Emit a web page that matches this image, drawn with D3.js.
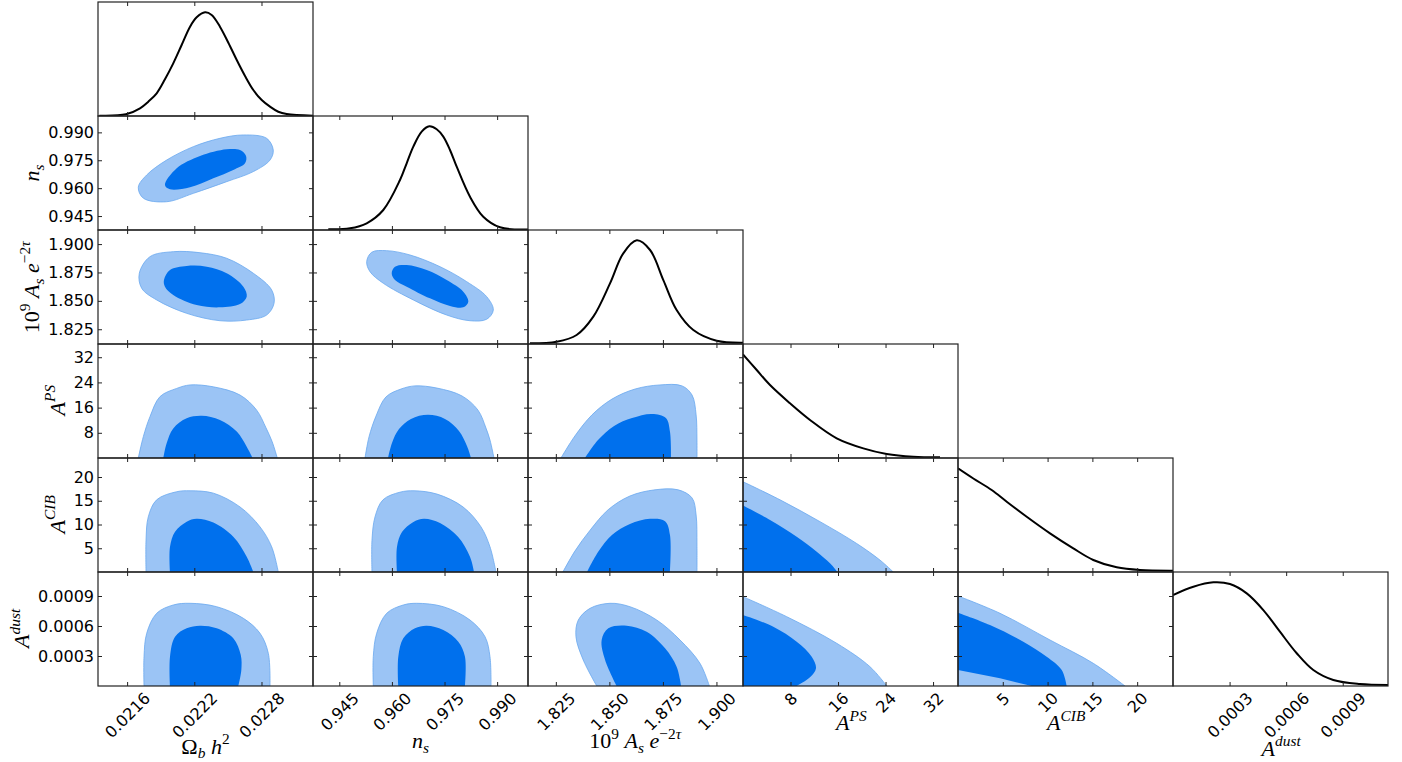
<!doctype html>
<html>
<head>
<meta charset="utf-8">
<style>
	body { margin: 0; background: #fff; }
	.spine { fill: none; stroke: #222; stroke-width: 1.2px; }
	.ticks { color: #222; }
	.ticks text { font-family: "DejaVu Sans", sans-serif; font-size: 16px; fill: #000; }
	.axlab { font-family: "Liberation Serif", serif; fill: #000; }
	.c95 { fill: #9bc4f5; stroke: #6aa8ef; stroke-width: 0.8px; }
	.c68 { fill: #0070ed; }
	.marg { fill: none; stroke: #000; stroke-width: 2px; }
</style>
<script src="https://d3js.org/d3.v7.min.js"></script>
</head>
<body>
<script>
	// parameters, in the order of the triangle
	var names = ["omb", "ns", "As", "APS", "ACIB", "Adust"];
	var axisLabels = ["Ω_b h^2", "n_s", "10^9 A_s e^{−2τ}", "A^{PS}", "A^{CIB}", "A^{dust}"];
	var ranges = [[0.02134, 0.02326], [0.9375, 0.9988], [1.812, 1.9124], [0, 36.2], [0, 24], [0, 0.00114]];
	var tickValues = [
		[0.0216, 0.0222, 0.0228],
		[0.945, 0.960, 0.975, 0.990],
		[1.825, 1.850, 1.875, 1.900],
		[8, 16, 24, 32],
		[5, 10, 15, 20],
		[0.0003, 0.0006, 0.0009]
	];
	var tickLabels = [
		["0.0216", "0.0222", "0.0228"],
		["0.945", "0.960", "0.975", "0.990"],
		["1.825", "1.850", "1.875", "1.900"],
		["8", "16", "24", "32"],
		["5", "10", "15", "20"],
		["0.0003", "0.0006", "0.0009"]
	];

	// 1D marginals: [value, relative density]
	var marg_omb = [[0.021352,0.003],[0.021590,0.016],[0.021715,0.074],[0.021789,0.138],[0.021864,0.219],[0.021938,0.354],[0.022012,0.508],[0.022087,0.685],[0.022162,0.862],[0.022221,0.952],[0.022296,1.0],[0.022355,0.975],[0.022429,0.862],[0.022504,0.707],[0.022579,0.540],[0.022653,0.386],[0.022727,0.251],[0.022802,0.154],[0.022876,0.090],[0.022950,0.041],[0.023025,0.019],[0.023263,0.003]];
	var marg_ns = [[0.94186,0.007],[0.94805,0.016],[0.95281,0.065],[0.95754,0.193],[0.96230,0.482],[0.96421,0.644],[0.96610,0.804],[0.96849,0.949],[0.97066,1.0],[0.97277,0.972],[0.97465,0.901],[0.97656,0.772],[0.97847,0.611],[0.98226,0.321],[0.98605,0.128],[0.99081,0.026],[0.9988,0.005]];
	var marg_As = [[1.8129,0.007],[1.8254,0.022],[1.8347,0.087],[1.8425,0.264],[1.8503,0.585],[1.8565,0.875],[1.8628,1.0],[1.8690,0.907],[1.8752,0.617],[1.8814,0.328],[1.8892,0.135],[1.9001,0.032],[1.9124,0.013]];
	var marg_APS = [[0,1.0],[2.31,0.849],[4.55,0.704],[7.91,0.528],[11.28,0.367],[15.78,0.190],[20.26,0.093],[24.19,0.039],[28.67,0.013],[33.17,0.008]];
	var marg_CIB = [[0,1.0],[1.71,0.902],[3.76,0.791],[5.44,0.678],[7.67,0.533],[10.27,0.373],[12.87,0.228],[15.10,0.116],[17.72,0.045],[20.32,0.019],[24,0.013]];
	var marg_dust = [[0,0.878],[0.000108,0.958],[0.000214,1.0],[0.000302,0.984],[0.000391,0.894],[0.000479,0.733],[0.000567,0.524],[0.000656,0.316],[0.000744,0.154],[0.00085,0.058],[0.000991,0.019],[0.00114,0.010]];

	// 2D contours (95% and 68%): [column parameter, row parameter]
	var ns_omb_95 = [[0.02170,0.9605],[0.021775,0.9671],[0.021953,0.9751],[0.022191,0.9823],[0.022429,0.9868],[0.022638,0.9886],[0.022846,0.9868],[0.022905,0.9805],[0.022876,0.9751],[0.022727,0.9689],[0.022489,0.9635],[0.022191,0.9572],[0.021953,0.9527],[0.021745,0.9546]];
	var ns_omb_68 = [[0.021938,0.9617],[0.022043,0.9707],[0.022251,0.9773],[0.022489,0.9809],[0.022608,0.9805],[0.022662,0.9773],[0.022653,0.9734],[0.022548,0.9698],[0.022370,0.9653],[0.022162,0.9605],[0.021983,0.9594]];
	var As_omb_95 = [[0.021709,1.8743],[0.021804,1.8889],[0.022012,1.8933],[0.022251,1.8924],[0.022489,1.8875],[0.022727,1.8743],[0.022891,1.8596],[0.022912,1.8478],[0.022846,1.8375],[0.022668,1.8331],[0.022429,1.8325],[0.022132,1.8390],[0.021864,1.8508],[0.021730,1.8611]];
	var As_omb_68 = [[0.021929,1.8684],[0.021983,1.8772],[0.022132,1.8807],[0.022311,1.8801],[0.022489,1.8743],[0.022638,1.8625],[0.022668,1.8537],[0.022608,1.8472],[0.022429,1.8443],[0.022221,1.8463],[0.022012,1.8552],[0.021938,1.8625]];
	var As_ns_95 = [[0.95281,1.8845],[0.95424,1.8928],[0.95851,1.8942],[0.96515,1.8904],[0.97371,1.8801],[0.98132,1.8669],[0.98702,1.8537],[0.98891,1.8419],[0.98702,1.8338],[0.98226,1.8325],[0.97562,1.8375],[0.96610,1.8508],[0.95754,1.8655],[0.95375,1.8757]];
	var As_ns_68 = [[0.95994,1.8743],[0.96088,1.8801],[0.96421,1.8816],[0.96992,1.8772],[0.97562,1.8684],[0.98035,1.8581],[0.98178,1.8493],[0.98035,1.8443],[0.97656,1.8455],[0.97086,1.8522],[0.96421,1.8625],[0.96088,1.8684]];
	var APS_omb_95 = [[0.021700,0],[0.021745,6.8],[0.021804,13.1],[0.021894,19.5],[0.022043,22.1],[0.022162,23.2],[0.022370,22.6],[0.022608,20.0],[0.022757,15.2],[0.022840,9.6],[0.022895,5.2],[0.022941,0]];
	var APS_omb_68 = [[0.021923,0],[0.021953,4.7],[0.022012,9.4],[0.022132,12.6],[0.022266,13.4],[0.022429,12.1],[0.022579,8.4],[0.022668,3.6],[0.022721,0]];
	var CIB_omb_95 = [[0.021769,0],[0.021769,6.7],[0.021789,11.6],[0.021864,15.2],[0.022043,16.9],[0.022162,17.1],[0.022370,16.6],[0.022608,13.7],[0.022787,9.5],[0.022891,5.3],[0.022950,0]];
	var CIB_omb_68 = [[0.021983,0],[0.021983,5.3],[0.022028,8.5],[0.022132,10.6],[0.022221,11.2],[0.022370,10.4],[0.022548,7.4],[0.022668,3.2],[0.022727,0]];
	var dust_omb_95 = [[0.021751,0],[0.021751,0.000293],[0.021775,0.000527],[0.021864,0.000727],[0.022012,0.00081],[0.022162,0.000827],[0.022400,0.000793],[0.022638,0.000677],[0.022787,0.000527],[0.022861,0.000327],[0.022876,0]];
	var dust_omb_68 = [[0.021983,0],[0.021983,0.000293],[0.022028,0.000493],[0.022132,0.000577],[0.022251,0.000603],[0.022400,0.000577],[0.022548,0.000477],[0.022615,0.000310],[0.022620,0.000160],[0.022593,0]];
	var APS_ns_95 = [[0.95233,0],[0.95347,6.7],[0.95546,13.3],[0.95831,19.4],[0.96259,21.9],[0.96658,22.9],[0.97285,22.2],[0.97998,19.7],[0.98454,15.2],[0.98682,9.5],[0.98796,5.7],[0.98910,0]];
	var APS_ns_68 = [[0.95888,0],[0.96002,4.8],[0.96202,9.2],[0.96544,12.4],[0.97029,13.7],[0.97513,12.4],[0.97912,8.6],[0.98140,3.8],[0.98255,0]];
	var CIB_ns_95 = [[0.95432,0],[0.95432,6.7],[0.95518,11.6],[0.95746,15.2],[0.96230,16.8],[0.96630,17.1],[0.97285,16.4],[0.98027,13.7],[0.98540,9.5],[0.98796,5.3],[0.98967,0]];
	var CIB_ns_68 = [[0.96145,0],[0.96145,5.3],[0.96287,8.4],[0.96601,10.5],[0.96915,11.2],[0.97371,10.3],[0.97884,7.4],[0.98226,3.2],[0.98340,0]];
	var dust_ns_95 = [[0.95469,0],[0.95469,0.000293],[0.95566,0.000527],[0.95851,0.000727],[0.96324,0.00081],[0.96707,0.000827],[0.97465,0.000793],[0.98226,0.00066],[0.98654,0.000493],[0.98796,0.000293],[0.98825,0]];
	var dust_ns_68 = [[0.96182,0],[0.96182,0.000293],[0.96324,0.000477],[0.96658,0.000577],[0.96992,0.000603],[0.97465,0.00056],[0.97893,0.000443],[0.98083,0.000293],[0.98083,0]];
	var APS_As_95 = [[1.8274,0],[1.8339,7.0],[1.8419,13.7],[1.8512,18.7],[1.8620,21.9],[1.8736,23.2],[1.8839,22.9],[1.8886,20.0],[1.8905,13.7],[1.8909,5.7],[1.8909,0]];
	var APS_As_68 = [[1.8386,0],[1.8447,5.7],[1.8522,10.2],[1.8606,12.7],[1.8699,14.0],[1.8764,12.7],[1.8783,8.3],[1.8788,0]];
	var CIB_As_95 = [[1.8283,0],[1.8339,4.4],[1.8410,8.8],[1.8494,13.1],[1.8596,16.0],[1.8713,17.3],[1.8821,17.3],[1.8886,15.6],[1.8905,12.0],[1.8909,5.7],[1.8909,0]];
	var CIB_As_68 = [[1.8396,0],[1.8447,4.2],[1.8512,7.8],[1.8596,10.1],[1.8690,11.2],[1.8760,10.7],[1.8783,7.8],[1.8783,0]];
	var dust_As_95 = [[1.8441,0],[1.8378,0.00026],[1.8344,0.000493],[1.8355,0.00066],[1.8410,0.000777],[1.8503,0.000827],[1.8596,0.000793],[1.8721,0.00066],[1.8830,0.00046],[1.8923,0.000227],[1.8967,0]];
	var dust_As_68 = [[1.8534,0],[1.8480,0.00026],[1.8464,0.00046],[1.8495,0.000577],[1.8581,0.000603],[1.8674,0.000543],[1.8760,0.000377],[1.8814,0.000193],[1.8835,0]];
	var CIB_APS_95 = [[0,19.0],[6.23,15.2],[12.96,10.6],[19.14,6.0],[23.07,2.5],[25.3,0]];
	var CIB_APS_68 = [[0,14.0],[4.55,10.95],[9.04,7.43],[12.41,4.27],[14.65,1.83],[15.9,0]];
	var dust_APS_95 = [[0,0.000893],[7.36,0.000693],[15.78,0.000427],[21.38,0.000193],[24.2,0]];
	var dust_APS_68 = [[0,0.00071],[5.10,0.000593],[9.04,0.000443],[11.57,0.000293],[12.29,0.000177],[11.28,0.000087],[9.04,0]];
	var dust_CIB_95 = [[0,0.0009],[4.69,0.000727],[10.27,0.00046],[15.1,0.000227],[18.64,0]];
	var dust_CIB_68 = [[0,0.000733],[3.57,0.00061],[7.29,0.000443],[9.9,0.000293],[11.58,0.00016],[12.13,0]];
	var dust_CIB_68_edge = [[8.23,0],[4.69,0.000077],[0,0.00016]];

	var margs = [marg_omb, marg_ns, marg_As, marg_APS, marg_CIB, marg_dust];
	// closing edge: null = closed contour, [] = cut by the bottom, points = straight closing segments
	var panels = [
		{row: 1, col: 0, c95: ns_omb_95, c68: ns_omb_68, e95: null, e68: null},
		{row: 2, col: 0, c95: As_omb_95, c68: As_omb_68, e95: null, e68: null},
		{row: 2, col: 1, c95: As_ns_95, c68: As_ns_68, e95: null, e68: null},
		{row: 3, col: 0, c95: APS_omb_95, c68: APS_omb_68, e95: [], e68: []},
		{row: 3, col: 1, c95: APS_ns_95, c68: APS_ns_68, e95: [], e68: []},
		{row: 3, col: 2, c95: APS_As_95, c68: APS_As_68, e95: [], e68: []},
		{row: 4, col: 0, c95: CIB_omb_95, c68: CIB_omb_68, e95: [], e68: []},
		{row: 4, col: 1, c95: CIB_ns_95, c68: CIB_ns_68, e95: [], e68: []},
		{row: 4, col: 2, c95: CIB_As_95, c68: CIB_As_68, e95: [], e68: []},
		{row: 4, col: 3, c95: CIB_APS_95, c68: CIB_APS_68, e95: [[0, 0]], e68: [[0, 0]]},
		{row: 5, col: 0, c95: dust_omb_95, c68: dust_omb_68, e95: [], e68: []},
		{row: 5, col: 1, c95: dust_ns_95, c68: dust_ns_68, e95: [], e68: []},
		{row: 5, col: 2, c95: dust_As_95, c68: dust_As_68, e95: [], e68: []},
		{row: 5, col: 3, c95: dust_APS_95, c68: dust_APS_68, e95: [[0, 0]], e68: [[0, 0]]},
		{row: 5, col: 4, c95: dust_CIB_95, c68: dust_CIB_68, e95: [[0, 0]], e68: dust_CIB_68_edge}
	];
</script>
<script>
	var pw = 215, ph = 114,
		left = 98, top0 = 2,
		tickLen = 4,
		labelSize = 22,
		pageH = 762;

	var svg = d3.select("body").append("svg")
		.attr("width", 1402)
		.attr("height", pageH);

	var sx = ranges.map((r, i) => d3.scaleLinear().domain(r).range([left + i * pw, left + (i + 1) * pw]));
	var sy = ranges.map((r, i) => d3.scaleLinear().domain(r).range([top0 + (i + 1) * ph, top0 + i * ph]));
	var sd = ranges.map((r, i) => d3.scaleLinear().domain([0, 1.1]).range([top0 + (i + 1) * ph, top0 + i * ph]));

	var defs = svg.append("defs");
	var clip = function(row, col) {
		var id = "clip-" + row + "-" + col;
		defs.append("clipPath").attr("id", id)
			.append("rect")
			.attr("x", left + col * pw).attr("y", top0 + row * ph)
			.attr("width", pw).attr("height", ph);
		return "url(#" + id + ")";
	};

	var contourPath = function(pts, edge, x, y) {
		if (edge == null) {
			return d3.line().x(d => x(d[0])).y(d => y(d[1]))
				.curve(d3.curveCatmullRomClosed.alpha(0.5))(pts);
		}
		var p = d3.line().x(d => x(d[0])).y(d => y(d[1]))
			.curve(d3.curveCatmullRom.alpha(0.5))(pts);
		edge.forEach(d => { p += "L" + x(d[0]) + "," + y(d[1]); });
		return p + "Z";
	};

	var fills = svg.append("g");
	panels.forEach(function(p) {
		var g = fills.append("g").attr("clip-path", clip(p.row, p.col));
		var x = sx[p.col], y = sy[p.row];
		g.append("path").attr("class", "c95").attr("d", contourPath(p.c95, p.e95, x, y));
		g.append("path").attr("class", "c68").attr("d", contourPath(p.c68, p.e68, x, y));
	});

	margs.forEach(function(m, i) {
		svg.append("g").attr("clip-path", clip(i, i))
			.append("path")
			.attr("class", "marg")
			.attr("d", d3.line().x(d => sx[i](d[0])).y(d => sd[i](d[1])).curve(d3.curveCatmullRom.alpha(0.5))(m));
	});

	// ticks and spines
	var fmt = i => (d => tickLabels[i][tickValues[i].indexOf(d)]);
	var noLabel = d => "";
	var tickLeft = [], tickBottom = [];

	for (var row = 0; row < names.length; row++) {
		for (var col = 0; col <= row; col++) {
			var x0 = left + col * pw, y0 = top0 + row * ph;
			var is2d = row !== col;

			var gb = svg.append("g").attr("class", "ticks")
				.attr("transform", `translate(0, ${y0 + ph})`)
				.call(d3.axisBottom(sx[col]).tickValues(tickValues[col]).tickSize(-tickLen)
					.tickFormat(row === names.length - 1 ? fmt(col) : noLabel));
			svg.append("g").attr("class", "ticks")
				.attr("transform", `translate(0, ${y0})`)
				.call(d3.axisTop(sx[col]).tickValues(tickValues[col]).tickSize(-tickLen).tickFormat(noLabel));

			if (is2d) {
				var gl = svg.append("g").attr("class", "ticks")
					.attr("transform", `translate(${x0}, 0)`)
					.call(d3.axisLeft(sy[row]).tickValues(tickValues[row]).tickSize(-tickLen).tickPadding(4)
						.tickFormat(col === 0 ? fmt(row) : noLabel));
				svg.append("g").attr("class", "ticks")
					.attr("transform", `translate(${x0 + pw}, 0)`)
					.call(d3.axisRight(sy[row]).tickValues(tickValues[row]).tickSize(-tickLen).tickFormat(noLabel));
				if (col === 0) {
					var minLeft = x0;
					gl.selectAll("text").each(function() {
						minLeft = Math.min(minLeft, x0 - 4 - this.getComputedTextLength());
					});
					tickLeft[row] = minLeft;
				}
			}

			if (row === names.length - 1) {
				var maxB = 0;
				gb.selectAll("text")
					.attr("x", 0).attr("y", 0).attr("dy", null)
					.attr("text-anchor", "middle")
					.attr("dominant-baseline", "central")
					.attr("transform", function() {
						var half = (this.getComputedTextLength() + 10) * 0.3536;
						maxB = Math.max(maxB, 6 + 2 * half);
						return `translate(0, ${6 + half}) rotate(-45)`;
					});
				tickBottom[col] = y0 + ph + maxB;
			}

			svg.selectAll(".ticks .domain").remove();
			svg.append("rect").attr("class", "spine")
				.attr("x", x0).attr("y", y0)
				.attr("width", pw).attr("height", ph);
		}
	}

	// axis labels written in a small TeX-like form
	var parseTex = function(s) {
		var parts = [], i = 0;
		while (i < s.length) {
			var c = s[i];
			if (c === "_" || c === "^") {
				var mode = c === "_" ? "sub" : "sup", t;
				i++;
				if (s[i] === "{") { var j = s.indexOf("}", i); t = s.slice(i + 1, j); i = j + 1; }
				else { t = s[i]; i++; }
				parts.push({t: t, s: mode});
			} else {
				parts.push({t: c === " " ? "\u00a0" : c, s: null});
				i++;
			}
		}
		return parts;
	};

	var mathText = function(g, str) {
		var t = g.append("text").attr("class", "axlab").style("font-size", labelSize + "px");
		var cur = 0;
		parseTex(str).forEach(function(p) {
			var shift = p.s === "sub" ? 0.2 * labelSize : p.s === "sup" ? -0.42 * labelSize : 0;
			p.t.split("").forEach(function(ch, k) {
				t.append("tspan")
					.attr("dy", k === 0 ? shift - cur : 0)
					.style("font-size", (p.s ? 0.7 * labelSize : labelSize) + "px")
					.style("font-style", /[a-zA-Zτ]/.test(ch) ? "italic" : "normal")
					.text(ch);
			});
			cur = shift;
		});
		return t;
	};

	// labels are placed by their baseline, kept inside the page
	axisLabels.forEach(function(lab, i) {
		var g = svg.append("g");
		var t = mathText(g, lab);
		var b = t.node().getBBox();
		var cx = left + i * pw + pw / 2;
		var base = Math.min(tickBottom[i] + 17, pageH - 1 - (b.y + b.height));
		g.attr("transform", `translate(${cx - b.x - b.width / 2}, ${base})`);

		if (i > 0) {
			var gy = svg.append("g");
			var ty = mathText(gy, lab);
			var by = ty.node().getBBox();
			var cy = top0 + i * ph + ph / 2;
			gy.attr("transform", `translate(${tickLeft[i] - 9}, ${cy + by.x + by.width / 2}) rotate(-90)`);
		}
	});
</script>
</body>
</html>
